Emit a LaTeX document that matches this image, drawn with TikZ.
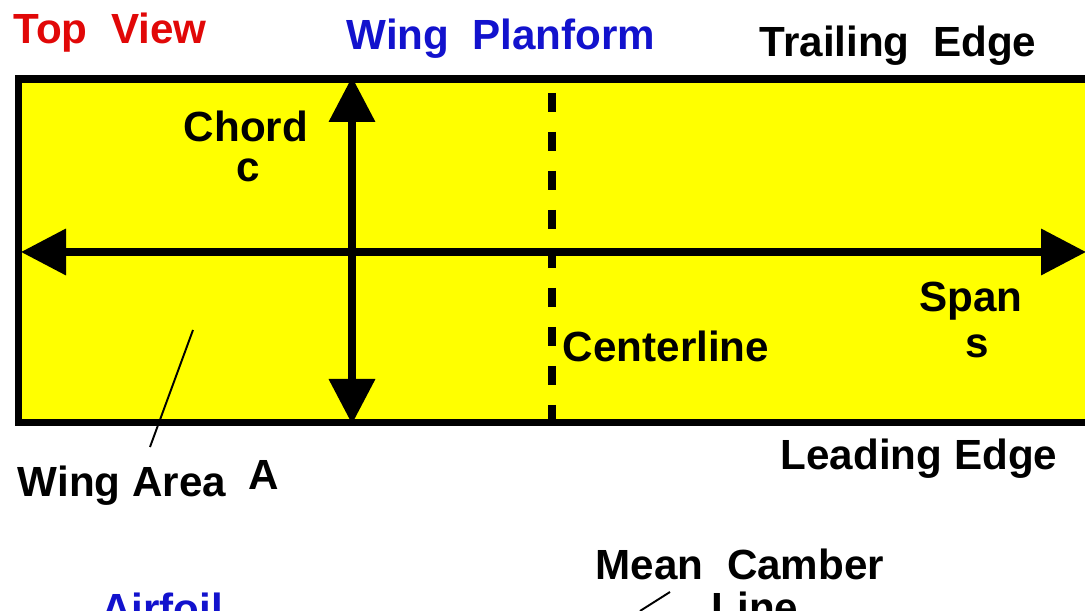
\documentclass[tikz,border=0pt]{standalone}
\usepackage{fontspec}
\setmainfont{Liberation Sans}
\usepackage{tikz}
\usetikzlibrary{arrows.meta,positioning}
\definecolor{viewred}{RGB}{225,8,8}
\definecolor{titleblue}{RGB}{18,18,205}
\definecolor{wingyellow}{RGB}{255,255,0}
\tikzset{lbl/.style={inner sep=0pt, anchor=base, font=\fontsize{24}{28}\selectfont\bfseries},
         dimarrow/.style={line width=4pt, {Triangle[length=0.9cm,width=0.9cm]}-{Triangle[length=0.9cm,width=0.9cm]}},
         leader/.style={line width=1.1pt}}
\begin{document}
\begin{tikzpicture}
        \useasboundingbox (0,0) rectangle (21.7,12.22);
        % planform
        \coordinate (LL) at (0.37,3.77);
        \coordinate (UR) at (22.2,10.64);
        \fill[wingyellow] (LL) rectangle (UR);
        \coordinate (CLtop) at (11.04,10.36);
        \coordinate (CLbot) at (11.04,3.77);
        \draw[line width=5pt, dash pattern=on 0.38cm off 0.4cm] (CLtop) -- (CLbot);
        \draw[line width=4.5pt] (LL) rectangle (UR);
        \coordinate (Sleft) at (0.42,7.18);
        \coordinate (Sright) at (21.72,7.18);
        \draw[dimarrow] (Sleft) -- (Sright);
        \coordinate (Ctop) at (7.04,10.68);
        \coordinate (Cbot) at (7.04,3.74);
        \draw[dimarrow] (Ctop) -- (Cbot);
        % labels
        \node[lbl, text=viewred] (top) at (2.2,11.34) {Top\ \ View};
        \node[lbl, text=titleblue] (plan) at (10.02,11.22) {Wing\ \ Planform};
        \node[lbl] (TE) at (17.96,11.08) {Trailing\ \ Edge};
        \node[lbl] (chord) at (4.92,9.38) {Chord};
        \node[lbl] (c) at (4.96,8.58) {c};
        \node[lbl] (span) at (19.42,5.98) {Span};
        \node[lbl] (s) at (19.54,5.06) {s};
        \node[lbl] (CL) at (13.32,4.98) {Centerline};
        \node[lbl] (area) at (2.44,2.28) {Wing Area};
        \node[lbl] (A) at (5.28,2.42) {A};
        \node[lbl] (LE) at (18.38,2.82) {Leading Edge};
        \node[lbl] (MC) at (14.8,0.62) {Mean\ \ Camber};
        \node[lbl] (line) at (15.1,-0.24) {Line};
        \node[lbl, text=titleblue] (foil) at (3.24,-0.26) {Airfoil};
        % leaders
        \coordinate (Ain) at (3.86,5.62);
        \coordinate (Aout) at (3.0,3.28);
        \draw[leader] (Ain) -- (Aout);
        \coordinate (MCa) at (12.8,0.0);
        \coordinate (MCb) at (13.4,0.38);
        \draw[leader] (MCa) -- (MCb);
\end{tikzpicture}
\end{document}
